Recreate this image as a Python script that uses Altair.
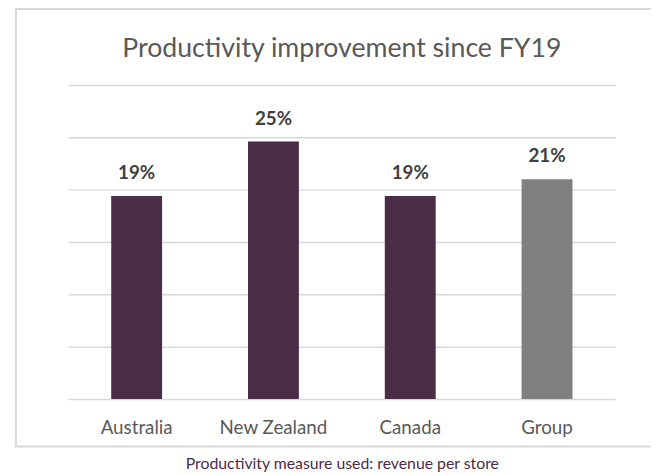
import altair as alt
import pandas as pd

# ---- data ----
regions = ["Australia", "New Zealand", "Canada", "Group"]
improvement = [0.194, 0.246, 0.194, 0.210]
bar_colors = ["#4b2d48", "#4b2d48", "#4b2d48", "#7f7f7f"]
y_ticks = [0, 0.05, 0.10, 0.15, 0.20, 0.25, 0.30]
title_text = ["Productivity improvement since FY19"]
caption_text = "Productivity measure used: revenue per store"

FONT = "Lato"
GRID = "#d9d9d9"

df = pd.DataFrame({"region": regions, "value": improvement, "color": bar_colors})
frame_df = pd.DataFrame({"k": [0]})
title_df = pd.DataFrame({"t": title_text})

x_enc = alt.X(
    "region:N",
    sort=regions,
    scale=alt.Scale(paddingInner=0.628, paddingOuter=0.314),
    axis=alt.Axis(
        title=caption_text,
        labelAngle=0,
        labelFont=FONT,
        labelFontSize=19,
        labelColor="#595959",
        labelBaseline="middle",
        labelPadding=29,
        ticks=False,
        tickSize=0,
        domain=False,
        grid=False,
        titleFont=FONT,
        titleFontSize=16,
        titleFontWeight="normal",
        titleColor="#4b2d48",
        titlePadding=18,
    ),
)
y_enc = alt.Y(
    "value:Q",
    scale=alt.Scale(domain=[0, 0.3], nice=False),
    axis=alt.Axis(
        values=y_ticks,
        grid=True,
        gridColor=GRID,
        gridWidth=1.5,
        labels=False,
        ticks=False,
        domain=False,
        title=None,
    ),
)

frame = alt.Chart(frame_df).mark_rect(
    fill="transparent", stroke=GRID, strokeWidth=2
).encode(
    x=alt.value(-53), x2=alt.value(640), y=alt.value(-77), y2=alt.value(366)
)

title = alt.Chart(title_df).mark_text(
    font=FONT, fontSize=27, color="#595959", align="center", baseline="alphabetic"
).encode(
    text="t:N", x=alt.value(277), y=alt.value(-28)
)

bars = alt.Chart(df).mark_bar().encode(
    x=x_enc, y=y_enc, color=alt.Color("color:N", scale=None)
)

labels = alt.Chart(df).mark_text(
    baseline="middle", dy=-23, font=FONT, fontSize=19, fontWeight="bold", color="#404040"
).encode(
    x=alt.X("region:N", sort=regions),
    y=alt.Y("value:Q"),
    text=alt.Text("value:Q", format=".0%"),
)

chart = alt.layer(frame, title, bars, labels).properties(
    width=554,
    height=318,
    padding={"left": 61, "top": 75, "right": 36, "bottom": 73},
    autosize=alt.AutoSizeParams(type="none"),
    background="white",
).configure_view(stroke=None)

chart.save("out.html", embed_options={"renderer": "svg", "actions": False})
